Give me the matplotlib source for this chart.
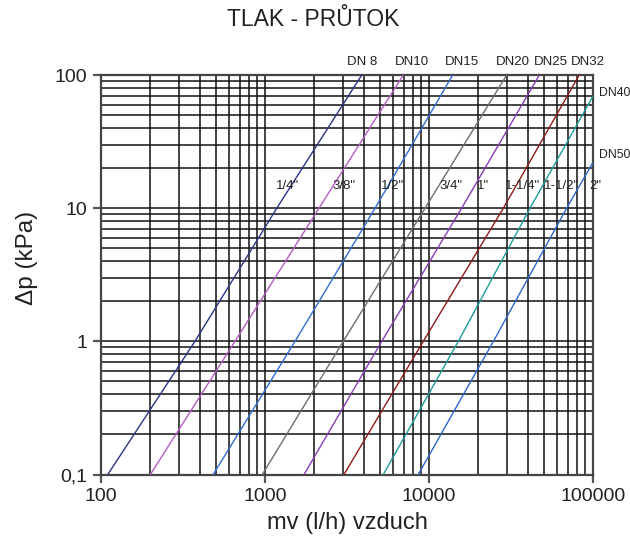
import numpy as np
import matplotlib
matplotlib.use("Agg")
import matplotlib.pyplot as plt
from matplotlib.ticker import LogLocator, NullFormatter
import matplotlib.transforms as mtransforms

plt.rcParams['font.family'] = ['Liberation Sans', 'DejaVu Sans']

# ---- data ----
series_names = ["DN 8", "DN10", "DN15", "DN20", "DN25", "DN32", "DN40", "DN50"]
inch_names = ['1/4"', '3/8"', '1/2"', '3/4"', '1"', '1-1/4"', '1-1/2"', '2"']

dn8_x = [110, 374, 1180, 3890]
dn8_y = [0.1, 1, 10, 100]
dn10_x = [200, 656, 2135, 6970]
dn10_y = [0.1, 1, 10, 100]
dn15_x = [483, 1524, 4690, 13950]
dn15_y = [0.1, 1, 10, 100]
dn20_x = [963, 3000, 9460, 29770]
dn20_y = [0.1, 1, 10, 100]
dn25_x = [1730, 5150, 15820, 47080]
dn25_y = [0.1, 1, 10, 100]
dn32_x = [3030, 9230, 28400, 82450]
dn32_y = [0.1, 1, 10, 100]
dn40_x = [5265, 15100, 41300, 100000]
dn40_y = [0.1, 1, 10, 69.5]
dn50_x = [8600, 24700, 69100, 100000]
dn50_y = [0.1, 1, 10, 22.1]

x_ticks = [100, 1000, 10000, 100000]
x_ticklabels = ["100", "1000", "10000", "100000"]
y_ticks = [0.1, 1, 10, 100]
y_ticklabels = ["0,1", "1", "10", "100"]

series_x = [dn8_x, dn10_x, dn15_x, dn20_x, dn25_x, dn32_x, dn40_x, dn50_x]
series_y = [dn8_y, dn10_y, dn15_y, dn20_y, dn25_y, dn32_y, dn40_y, dn50_y]
colors = ["#2c3486", "#b45cc4", "#2f6fcf", "#6e6e6e", "#8a3cb4", "#8e1b1b", "#1f9c99", "#2d68c9"]

# ---- layout ----
fig = plt.figure(figsize=(6.30, 5.38), dpi=100)
ax = fig.add_axes([101/630, 1 - 474.5/538, 492/630, 399.5/538])
ax.set_xscale('log')
ax.set_yscale('log')
ax.set_xlim(100, 100000)
ax.set_ylim(0.1, 100)

# grid lines
ax.xaxis.set_minor_locator(LogLocator(base=10, subs=np.arange(2, 10)))
ax.yaxis.set_minor_locator(LogLocator(base=10, subs=np.arange(2, 10)))
ax.xaxis.set_minor_formatter(NullFormatter())
ax.yaxis.set_minor_formatter(NullFormatter())
ax.grid(True, which='both', color='#111111', linewidth=1.1)
ax.set_axisbelow(True)

ax.set_xticks(x_ticks)
ax.set_xticklabels(x_ticklabels)
ax.set_yticks(y_ticks)
ax.set_yticklabels(y_ticklabels)
ax.tick_params(which='major', length=6, width=1.6, color='#555555', labelsize=14,
               pad=4, labelcolor='#222222')
ax.tick_params(which='minor', length=0)
for sp in ax.spines.values():
    sp.set_color('#444444')
    sp.set_linewidth(1.6)

for xs, ys, c in zip(series_x, series_y, colors):
    ax.plot(xs, ys, color=c, linewidth=1.0, zorder=3)

# DN labels above the plot
top_label_x = [3890, 7845, 15960, 32650, 55460, 93600]
trans_top = mtransforms.blended_transform_factory(ax.transData, ax.transAxes)
for name, xv in zip(series_names[:6], top_label_x):
    ax.text(xv, 1 + 13/399.5, name, transform=trans_top, ha='center', va='center',
            fontsize=9.5, color='#222222', clip_on=False)
ax.text(1.0117, 0.954, series_names[6], transform=ax.transAxes, ha='left', va='center',
        fontsize=8.8, color='#222222', clip_on=False)
ax.text(1.0117, 0.799, series_names[7], transform=ax.transAxes, ha='left', va='center',
        fontsize=8.8, color='#222222', clip_on=False)

# inch labels
inch_x = [1381, 3034, 6030, 13620, 21340, 37250, 64460, 102800]
for name, xv in zip(inch_names, inch_x):
    ax.text(xv, 14.6, name, ha='center', va='center', fontsize=9.5, color='#222222',
            clip_on=False, zorder=4)

fig.text(313/630, 1 - 20/538, "TLAK - PRŮTOK", ha='center', va='center', fontsize=16.5, color='#222222')
fig.text(347/630, 1 - 523/538, "mv (l/h) vzduch", ha='center', va='center', fontsize=17, color='#222222')
fig.text(27/630, 1 - 258/538, "Δp (kPa)", ha='center', va='center', rotation=90, fontsize=17.5, color='#222222')

fig.savefig("out.png", dpi=100)
